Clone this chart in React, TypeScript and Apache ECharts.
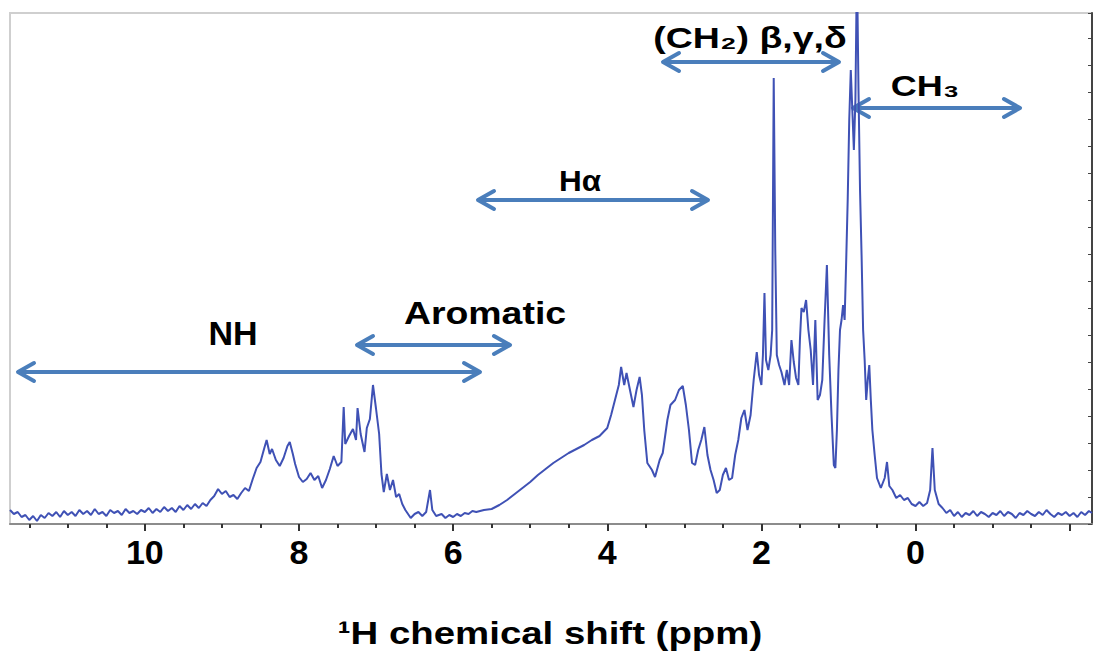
import React, { useEffect, useRef } from "react";
import * as echarts from "echarts";

// chemical shift (ppm) of each sampled point of the 1H spectrum
const shiftPpm = [
  11.75, 11.7, 11.65, 11.6, 11.55, 11.5, 11.45, 11.4, 11.35, 11.3, 11.25, 11.2, 11.15, 11.1, 11.05, 11.0,
  10.95, 10.9, 10.85, 10.8, 10.75, 10.7, 10.65, 10.6, 10.55, 10.5, 10.45, 10.4, 10.35, 10.3, 10.25, 10.2,
  10.15, 10.1, 10.05, 10.0, 9.95, 9.9, 9.85, 9.8, 9.75, 9.7, 9.65, 9.6, 9.55, 9.5, 9.45, 9.4, 9.35, 9.3,
  9.25, 9.2, 9.15, 9.1, 9.05, 9.0, 8.95, 8.9, 8.85, 8.8, 8.75, 8.7, 8.65, 8.6, 8.55, 8.5, 8.45, 8.42,
  8.38, 8.35, 8.3, 8.25, 8.2, 8.15, 8.12, 8.08, 8.05, 8.0, 7.95, 7.9, 7.85, 7.8, 7.75, 7.7, 7.65, 7.6,
  7.55, 7.5, 7.45, 7.42, 7.4, 7.35, 7.3, 7.26, 7.24, 7.2, 7.15, 7.12, 7.08, 7.04, 7.0, 6.96, 6.93, 6.9,
  6.86, 6.82, 6.78, 6.74, 6.7, 6.66, 6.62, 6.55, 6.5, 6.45, 6.4, 6.35, 6.3, 6.27, 6.22, 6.15, 6.1, 6.05,
  6.0, 5.95, 5.9, 5.85, 5.8, 5.75, 5.7, 5.6, 5.5, 5.4, 5.3, 5.2, 5.1, 5.0, 4.9, 4.8, 4.7, 4.6, 4.5, 4.4,
  4.3, 4.2, 4.1, 4.0, 3.95, 3.9, 3.85, 3.82, 3.78, 3.75, 3.7, 3.66, 3.62, 3.58, 3.55, 3.52, 3.48, 3.42,
  3.38, 3.32, 3.28, 3.22, 3.18, 3.12, 3.07, 3.02, 2.98, 2.94, 2.9, 2.86, 2.82, 2.78, 2.74, 2.7, 2.66,
  2.62, 2.58, 2.54, 2.5, 2.46, 2.42, 2.38, 2.34, 2.3, 2.26, 2.22, 2.18, 2.14, 2.1, 2.06, 2.03, 2.0, 1.98,
  1.96, 1.94, 1.91, 1.88, 1.86, 1.84, 1.82, 1.8, 1.77, 1.74, 1.7, 1.67, 1.64, 1.61, 1.58, 1.55, 1.52,
  1.5, 1.48, 1.45, 1.42, 1.39, 1.36, 1.33, 1.3, 1.27, 1.24, 1.21, 1.18, 1.15, 1.12, 1.09, 1.06, 1.04,
  1.02, 1.0, 0.98, 0.96, 0.94, 0.92, 0.9, 0.88, 0.86, 0.84, 0.82, 0.8, 0.78, 0.76, 0.74, 0.72, 0.7, 0.68,
  0.66, 0.64, 0.62, 0.6, 0.58, 0.56, 0.53, 0.5, 0.45, 0.4, 0.37, 0.34, 0.3, 0.25, 0.2, 0.15, 0.1, 0.05,
  0.0, -0.05, -0.1, -0.15, -0.19, -0.22, -0.25, -0.3, -0.35, -0.4, -0.45, -0.5, -0.55, -0.6, -0.65, -0.7,
  -0.75, -0.8, -0.85, -0.9, -0.95, -1.0, -1.05, -1.1, -1.15, -1.2, -1.25, -1.3, -1.35, -1.4, -1.45, -1.5,
  -1.55, -1.6, -1.65, -1.7, -1.75, -1.8, -1.85, -1.9, -1.95, -2.0, -2.05, -2.1, -2.15, -2.2, -2.25, -2.29,
];

// signal intensity (arbitrary units) at each shift above
const intensity = [
  14, 10, 12, 7, 9, 4, 8, 3, 9, 6, 11, 8, 12, 7, 13, 9,
  12, 8, 14, 10, 13, 9, 15, 10, 12, 8, 14, 11, 13, 9, 15, 11,
  13, 10, 14, 12, 16, 11, 15, 12, 17, 13, 16, 12, 18, 14, 19, 15, 20, 16,
  21, 18, 24, 28, 35, 30, 33, 27, 29, 25, 31, 36, 33, 45, 56, 62, 76, 84,
  70, 75, 64, 58, 66, 78, 82, 70, 60, 47, 42, 45, 51, 44, 48, 36, 44, 55,
  68, 58, 62, 117, 80, 88, 95, 84, 116, 90, 72, 96, 105, 139, 115, 90, 50, 32,
  50, 34, 44, 27, 30, 20, 14, 6, 10, 12, 8, 12, 34, 14, 8, 10, 6, 9,
  7, 10, 8, 11, 10, 13, 12, 14, 15, 19, 24, 30, 36, 42, 49, 55, 61, 66, 71, 75,
  79, 84, 88, 96, 109, 124, 139, 157, 139, 151, 132, 117, 134, 147, 129, 94, 61, 54,
  47, 64, 71, 104, 119, 124, 134, 138, 119, 94, 61, 59, 74, 84, 97, 69, 54,
  44, 31, 34, 49, 56, 44, 46, 69, 84, 106, 114, 94, 109, 144, 172, 149, 139, 169,
  231, 164, 154, 169, 194, 446, 274, 169, 159, 152, 139, 154, 139, 184, 162, 146, 139,
  184, 216, 212, 224, 194, 174, 139, 204, 124, 129, 144, 204, 259, 169, 109, 59, 56,
  94, 154, 194, 204, 219, 204, 262, 324, 404, 454, 414, 374, 424, 560, 434, 334, 269, 194,
  164, 124, 144, 159, 124, 94, 69, 46, 36, 46, 62, 38, 34, 26, 29, 24, 26, 20,
  18, 22, 18, 21, 34, 76, 34, 20, 16, 11, 14, 8, 12, 7, 11, 9,
  13, 8, 12, 10, 7, 11, 9, 13, 8, 12, 10, 6, 11, 9, 13, 10,
  8, 12, 9, 14, 10, 7, 11, 9, 12, 8, 11, 7, 12, 9, 13, 11,
];

const majorTickValues = [-2, 0, 2, 4, 6, 8, 10];
const tickLabelValues = [0, 2, 4, 6, 8, 10];
const minorTickValues = [
  11.5, 11, 10.5, 9.5, 9, 8.5, 7.5, 7, 6.5, 5.5, 5, 4.5, 3.5, 3, 2.5, 1.5, 1, 0.5, -0.5, -1, -1.5,
];
const axisTitle = "¹H chemical shift (ppm)";
const regionNames = ["NH", "Aromatic", "Hα", "(CH₂) β,γ,δ", "CH₃"];

const ARROW = "#4a7ebb";
const FONT = '"Liberation Sans", Arial, sans-serif';

function arrow(x1: number, x2: number, y: number) {
  const hl = 16;
  const hw = 9;
  const st = { stroke: ARROW, lineWidth: 4, fill: "none", lineCap: "round", lineJoin: "round" } as any;
  return {
    type: "group",
    silent: true,
    children: [
      { type: "line", shape: { x1: x1 + 2, y1: y, x2: x2 - 2, y2: y }, style: st },
      { type: "polyline", shape: { points: [[x1 + hl, y - hw], [x1, y], [x1 + hl, y + hw]] }, style: st },
      { type: "polyline", shape: { points: [[x2 - hl, y - hw], [x2, y], [x2 - hl, y + hw]] }, style: st },
    ],
  };
}

function label(text: string, x: number, y: number, size: number, scaleX: number) {
  return {
    type: "text",
    x,
    y,
    scaleX,
    silent: true,
    style: {
      text,
      fill: "#000",
      font: `bold ${size}px ${FONT}`,
      align: "center",
      verticalAlign: "middle",
    },
  };
}

export default function App() {
  const ref = useRef<HTMLDivElement>(null);
  useEffect(() => {
    if (!ref.current) return;
    const chart = echarts.init(ref.current, undefined, { renderer: "svg" });
    const data = shiftPpm.map((p, i) => [p, intensity[i]]);
    chart.setOption({
      animation: false,
      backgroundColor: "#fff",
      grid: {
        left: 10,
        right: 4,
        top: 13,
        bottom: 136,
        show: true,
        borderColor: "#cfcfcf",
        borderWidth: 2,
        backgroundColor: "transparent",
      },
      xAxis: [
        {
          type: "value",
          min: -2.29,
          max: 11.75,
          inverse: true,
          position: "bottom",
          axisLine: { show: true, onZero: false, lineStyle: { color: "#8c8c8c", width: 2 } },
          axisTick: {
            show: true,
            length: 7,
            customValues: majorTickValues,
            lineStyle: { color: "#333", width: 2 },
          },
          axisLabel: {
            show: true,
            customValues: tickLabelValues,
            fontSize: 34,
            fontWeight: "bold",
            fontFamily: FONT,
            color: "#000",
            margin: 11,
          },
          splitLine: { show: false },
        },
        {
          type: "value",
          min: -2.29,
          max: 11.75,
          inverse: true,
          position: "bottom",
          axisLine: { show: false, onZero: false },
          axisTick: {
            show: true,
            length: 4,
            customValues: minorTickValues,
            lineStyle: { color: "#333", width: 2 },
          },
          axisLabel: { show: false },
          splitLine: { show: false },
        },
      ],
      yAxis: {
        type: "value",
        min: 0,
        max: 511,
        interval: 27,
        position: "right",
        axisLine: { show: true, onZero: false, lineStyle: { color: "#444", width: 2 } },
        axisTick: { show: true, inside: true, length: 4, lineStyle: { color: "#444", width: 1 } },
        axisLabel: { show: false },
        splitLine: { show: false },
      },
      series: [
        {
          type: "line",
          xAxisIndex: 0,
          yAxisIndex: 0,
          data,
          showSymbol: false,
          clip: true,
          lineStyle: { color: "#3f51b5", width: 2 },
          silent: true,
        },
      ],
      graphic: [
        arrow(18, 480, 372),
        arrow(357, 510, 345),
        arrow(478, 708, 200),
        arrow(663, 839, 62),
        arrow(853, 1020, 108),
        label(regionNames[0], 233, 333, 34, 1),
        label(regionNames[1], 485, 313, 32, 1.17),
        label(regionNames[2], 580, 181, 30, 1.05),
        label(regionNames[3], 750, 37, 30, 1.25),
        label(regionNames[4], 925, 86, 30, 1.2),
        label(axisTitle, 550, 633, 32, 1.2),
      ],
    });
    return () => chart.dispose();
  }, []);
  return (
    <div
      ref={ref}
      style={{ position: "fixed", left: 0, top: 0, width: 1096, height: 660, background: "#fff" }}
    />
  );
}
